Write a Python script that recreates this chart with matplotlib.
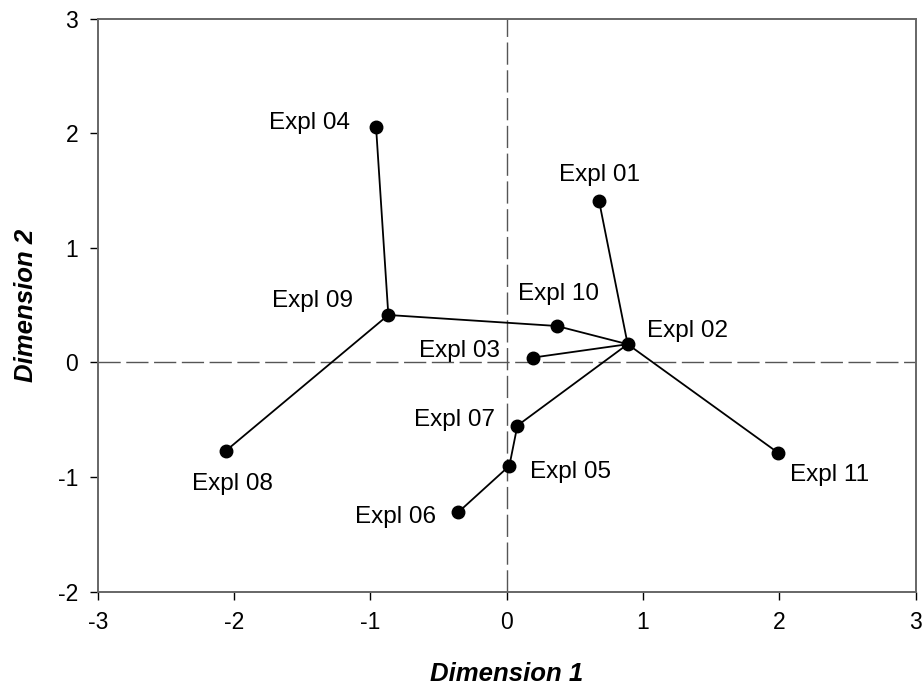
import numpy as np
import matplotlib
matplotlib.use('Agg')
import matplotlib.pyplot as plt

plt.rcParams['font.family'] = ['Liberation Sans', 'DejaVu Sans']
plt.rcParams['axes.unicode_minus'] = False

# point coordinates
names = ['Expl 01', 'Expl 02', 'Expl 03', 'Expl 04', 'Expl 05', 'Expl 06',
         'Expl 07', 'Expl 08', 'Expl 09', 'Expl 10', 'Expl 11']
dim1 = [0.678, 0.888, 0.191, -0.958, 0.020, -0.354, 0.079, -2.061, -0.868, 0.368, 1.989]
dim2 = [1.410, 0.159, 0.042, 2.053, -0.902, -1.306, -0.551, -0.772, 0.414, 0.318, -0.786]

# links between points
edges = [('Expl 04', 'Expl 09'), ('Expl 09', 'Expl 10'), ('Expl 10', 'Expl 02'),
         ('Expl 01', 'Expl 02'), ('Expl 03', 'Expl 02'), ('Expl 02', 'Expl 11'),
         ('Expl 02', 'Expl 07'), ('Expl 07', 'Expl 05'), ('Expl 05', 'Expl 06'),
         ('Expl 09', 'Expl 08')]

xticks = [-3, -2, -1, 0, 1, 2, 3]
yticks = [-2, -1, 0, 1, 2, 3]

# label placement: (dx px, dy px, ha)
label_pos = {
    'Expl 01': (0, 26, 'center'),
    'Expl 02': (19, 13, 'left'),
    'Expl 03': (-33, 7, 'right'),
    'Expl 04': (-26, 4, 'right'),
    'Expl 05': (21, -6, 'left'),
    'Expl 06': (-22, -5, 'right'),
    'Expl 07': (-22, 6, 'right'),
    'Expl 08': (7, -33, 'center'),
    'Expl 09': (-35, 14, 'right'),
    'Expl 10': (2, 32, 'center'),
    'Expl 11': (12, -22, 'left'),
}

fig = plt.figure(figsize=(9.23, 6.88), dpi=100)
ax = fig.add_axes([0.1059, 0.140, 0.886, 0.833])

ax.axhline(0, color='#555555', lw=1.0, dashes=(16, 4), zorder=1)
ax.axvline(0, color='#555555', lw=1.0, dashes=(16, 4), zorder=1)

idx = {n: i for i, n in enumerate(names)}
for a, b in edges:
    ax.plot([dim1[idx[a]], dim1[idx[b]]], [dim2[idx[a]], dim2[idx[b]]],
            color='black', lw=1.3, zorder=2)

ax.plot(dim1, dim2, 'o', color='black', ms=9, zorder=3)

px = 72 / 100
for n, x, y in zip(names, dim1, dim2):
    dx, dy, ha = label_pos[n]
    ax.annotate(n, (x, y), xytext=(dx * px, dy * px), textcoords='offset points',
                ha=ha, va='center', fontsize=17.5)

ax.set_xlim(-3, 3)
ax.set_ylim(-2, 3)
ax.set_xticks(xticks)
ax.set_yticks(yticks)
ax.tick_params(direction='out', length=6, width=1, labelsize=16.5, pad=8)
for s in ax.spines.values():
    s.set_color('#666666')
    s.set_linewidth(1.4)

ax.set_xlabel('Dimension 1', fontsize=18.5, fontweight='bold', fontstyle='italic', labelpad=20)
ax.set_ylabel('Dimension 2', fontsize=18.5, fontweight='bold', fontstyle='italic', labelpad=14)

fig.savefig('out.png', dpi=100)
